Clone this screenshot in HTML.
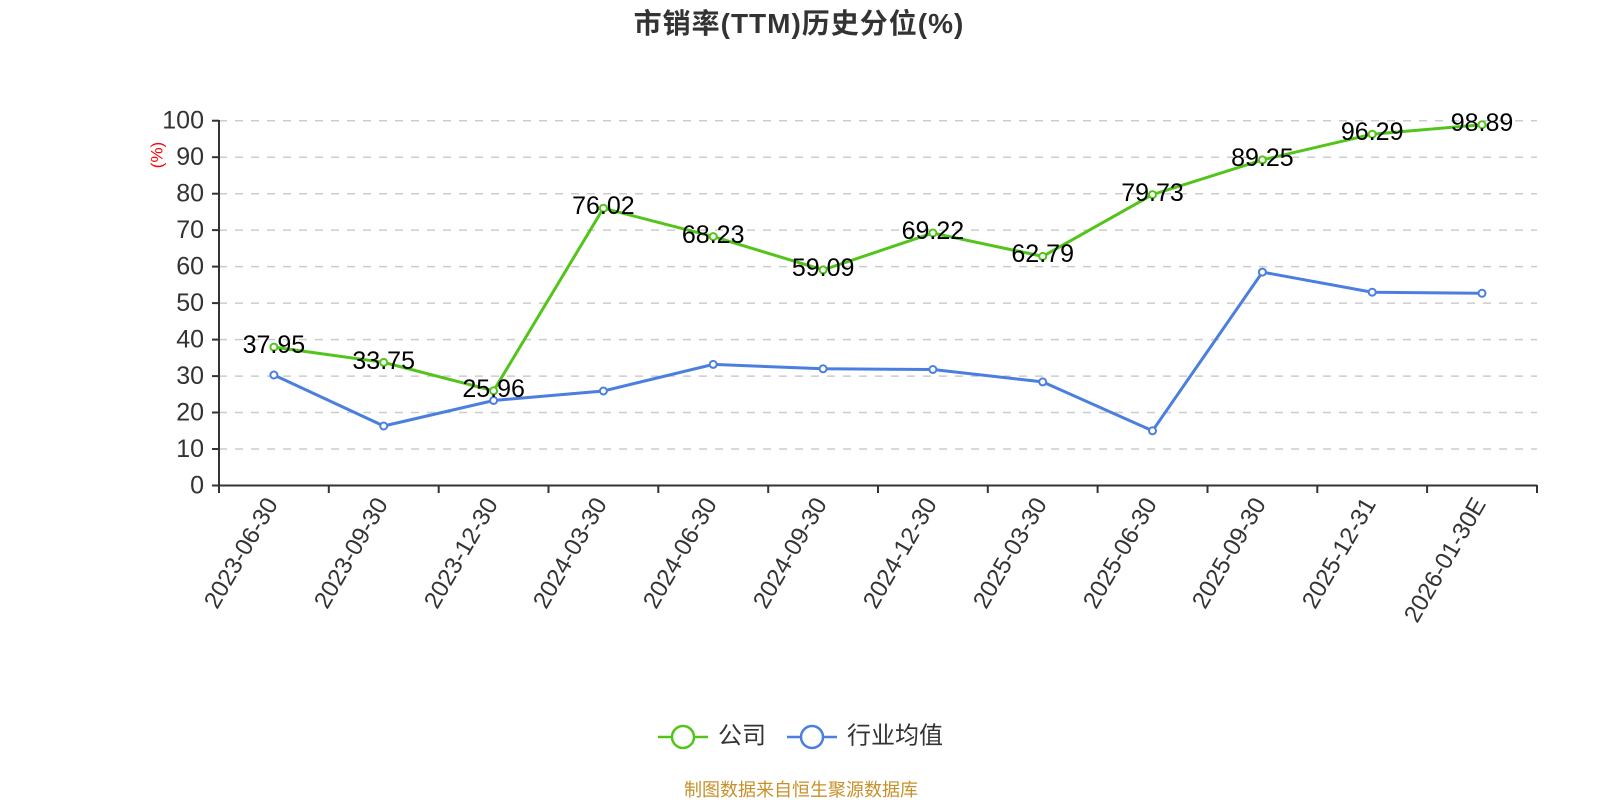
<!DOCTYPE html>
<html><head><meta charset="utf-8"><style>
html,body{margin:0;padding:0;background:#fff;}
svg{display:block;font-family:"Liberation Sans","Noto Sans CJK SC",sans-serif;}
</style></head><body>
<svg width="1600" height="800" viewBox="0 0 1600 800" xmlns="http://www.w3.org/2000/svg">
<text x="799" y="33" text-anchor="middle" font-size="28" font-weight="bold" fill="#333" letter-spacing="1">市销率(TTM)历史分位(%)</text>
<g stroke="#ccc" stroke-width="1.5" stroke-dasharray="8,8">
<line x1="219" x2="1537" y1="120.7" y2="120.7"/><line x1="219" x2="1537" y1="157.2" y2="157.2"/>
<line x1="219" x2="1537" y1="193.7" y2="193.7"/><line x1="219" x2="1537" y1="230.1" y2="230.1"/>
<line x1="219" x2="1537" y1="266.6" y2="266.6"/><line x1="219" x2="1537" y1="303.1" y2="303.1"/>
<line x1="219" x2="1537" y1="339.6" y2="339.6"/><line x1="219" x2="1537" y1="376.1" y2="376.1"/>
<line x1="219" x2="1537" y1="412.5" y2="412.5"/><line x1="219" x2="1537" y1="449" y2="449"/>
</g>
<g stroke="#333" stroke-width="2">
<line x1="219" x2="219" y1="120" y2="485.5"/>
<line x1="212" x2="1537" y1="485.5" y2="485.5"/>
<line x1="212" x2="219" y1="120.7" y2="120.7"/><line x1="212" x2="219" y1="157.2" y2="157.2"/>
<line x1="212" x2="219" y1="193.7" y2="193.7"/><line x1="212" x2="219" y1="230.1" y2="230.1"/>
<line x1="212" x2="219" y1="266.6" y2="266.6"/><line x1="212" x2="219" y1="303.1" y2="303.1"/>
<line x1="212" x2="219" y1="339.6" y2="339.6"/><line x1="212" x2="219" y1="376.1" y2="376.1"/>
<line x1="212" x2="219" y1="412.5" y2="412.5"/><line x1="212" x2="219" y1="449" y2="449"/>
<line x1="219" x2="219" y1="485" y2="493"/><line x1="328.8" x2="328.8" y1="485" y2="493"/>
<line x1="438.7" x2="438.7" y1="485" y2="493"/><line x1="548.5" x2="548.5" y1="485" y2="493"/>
<line x1="658.3" x2="658.3" y1="485" y2="493"/><line x1="768.2" x2="768.2" y1="485" y2="493"/>
<line x1="878" x2="878" y1="485" y2="493"/><line x1="987.8" x2="987.8" y1="485" y2="493"/>
<line x1="1097.6" x2="1097.6" y1="485" y2="493"/><line x1="1207.5" x2="1207.5" y1="485" y2="493"/>
<line x1="1317.3" x2="1317.3" y1="485" y2="493"/><line x1="1427.1" x2="1427.1" y1="485" y2="493"/>
<line x1="1537" x2="1537" y1="485" y2="493"/>
</g>
<g font-size="25" fill="#333" text-anchor="end" dominant-baseline="central">
<text x="204" y="120.7">100</text><text x="204" y="157.2">90</text><text x="204" y="193.7">80</text>
<text x="204" y="230.1">70</text><text x="204" y="266.6">60</text><text x="204" y="303.1">50</text>
<text x="204" y="339.6">40</text><text x="204" y="376.1">30</text><text x="204" y="412.5">20</text>
<text x="204" y="449">10</text><text x="204" y="485.5">0</text>
</g>
<text transform="translate(157,155) rotate(-90)" text-anchor="middle" dominant-baseline="central" font-size="17" fill="#f00">(%)</text>
<g font-size="24" fill="#333" text-anchor="end">
<text transform="translate(272,500) rotate(-60)" dominant-baseline="central">2023-06-30</text>
<text transform="translate(382,500) rotate(-60)" dominant-baseline="central">2023-09-30</text>
<text transform="translate(492,500) rotate(-60)" dominant-baseline="central">2023-12-30</text>
<text transform="translate(601,500) rotate(-60)" dominant-baseline="central">2024-03-30</text>
<text transform="translate(711,500) rotate(-60)" dominant-baseline="central">2024-06-30</text>
<text transform="translate(821,500) rotate(-60)" dominant-baseline="central">2024-09-30</text>
<text transform="translate(931,500) rotate(-60)" dominant-baseline="central">2024-12-30</text>
<text transform="translate(1041,500) rotate(-60)" dominant-baseline="central">2025-03-30</text>
<text transform="translate(1151,500) rotate(-60)" dominant-baseline="central">2025-06-30</text>
<text transform="translate(1260,500) rotate(-60)" dominant-baseline="central">2025-09-30</text>
<text transform="translate(1370,500) rotate(-60)" dominant-baseline="central">2025-12-31</text>
<text transform="translate(1480,500) rotate(-60)" dominant-baseline="central">2026-01-30E</text>
</g>
<polyline fill="none" stroke="#4a7fe0" stroke-width="3" points="273.9,375 383.7,426 493.6,400.5 603.4,391 713.2,364.4 823.1,368.8 932.9,369.5 1042.7,381.9 1152.5,430.8 1262.4,272.1 1372.2,292.2 1482,293.3"/>
<g fill="#fff" stroke="#4a7fe0" stroke-width="2">
<circle cx="273.9" cy="375" r="3.5"/><circle cx="383.7" cy="426" r="3.5"/><circle cx="493.6" cy="400.5" r="3.5"/>
<circle cx="603.4" cy="391" r="3.5"/><circle cx="713.2" cy="364.4" r="3.5"/><circle cx="823.1" cy="368.8" r="3.5"/>
<circle cx="932.9" cy="369.5" r="3.5"/><circle cx="1042.7" cy="381.9" r="3.5"/><circle cx="1152.5" cy="430.8" r="3.5"/>
<circle cx="1262.4" cy="272.1" r="3.5"/><circle cx="1372.2" cy="292.2" r="3.5"/><circle cx="1482" cy="293.3" r="3.5"/>
</g>
<polyline fill="none" stroke="#52c41a" stroke-width="3" points="273.9,347.1 383.7,362.4 493.6,390.8 603.4,208.2 713.2,236.6 823.1,269.9 932.9,233 1042.7,256.4 1152.5,194.6 1262.4,159.9 1372.2,134.2 1482,124.7"/>
<g fill="#fff" stroke="#52c41a" stroke-width="2">
<circle cx="273.9" cy="347.1" r="3.5"/><circle cx="383.7" cy="362.4" r="3.5"/><circle cx="493.6" cy="390.8" r="3.5"/>
<circle cx="603.4" cy="208.2" r="3.5"/><circle cx="713.2" cy="236.6" r="3.5"/><circle cx="823.1" cy="269.9" r="3.5"/>
<circle cx="932.9" cy="233" r="3.5"/><circle cx="1042.7" cy="256.4" r="3.5"/><circle cx="1152.5" cy="194.6" r="3.5"/>
<circle cx="1262.4" cy="159.9" r="3.5"/><circle cx="1372.2" cy="134.2" r="3.5"/><circle cx="1482" cy="124.7" r="3.5"/>
</g>
<g font-size="25" fill="#000" text-anchor="middle" dominant-baseline="central">
<text x="273.9" y="345">37.95</text><text x="383.7" y="361">33.75</text><text x="493.6" y="389">25.96</text>
<text x="603.4" y="206">76.02</text><text x="713.2" y="235">68.23</text><text x="823.1" y="268">59.09</text>
<text x="932.9" y="231">69.22</text><text x="1042.7" y="254">62.79</text><text x="1152.5" y="193">79.73</text>
<text x="1262.4" y="158">89.25</text><text x="1372.2" y="132">96.29</text><text x="1482" y="123">98.89</text>
</g>
<g stroke-width="2.5" fill="#fff">
<line x1="658" x2="708" y1="737" y2="737" stroke="#52c41a"/><circle cx="683" cy="737" r="11" stroke="#52c41a"/>
<line x1="787" x2="837" y1="737" y2="737" stroke="#4a7fe0"/><circle cx="812" cy="737" r="11" stroke="#4a7fe0"/>
</g>
<g font-size="24" fill="#333" dominant-baseline="central">
<text x="718" y="736">公司</text><text x="847" y="736">行业均值</text>
</g>
<text x="801" y="790" text-anchor="middle" dominant-baseline="central" font-size="18" fill="#c8902a">制图数据来自恒生聚源数据库</text>
</svg>
</body></html>
